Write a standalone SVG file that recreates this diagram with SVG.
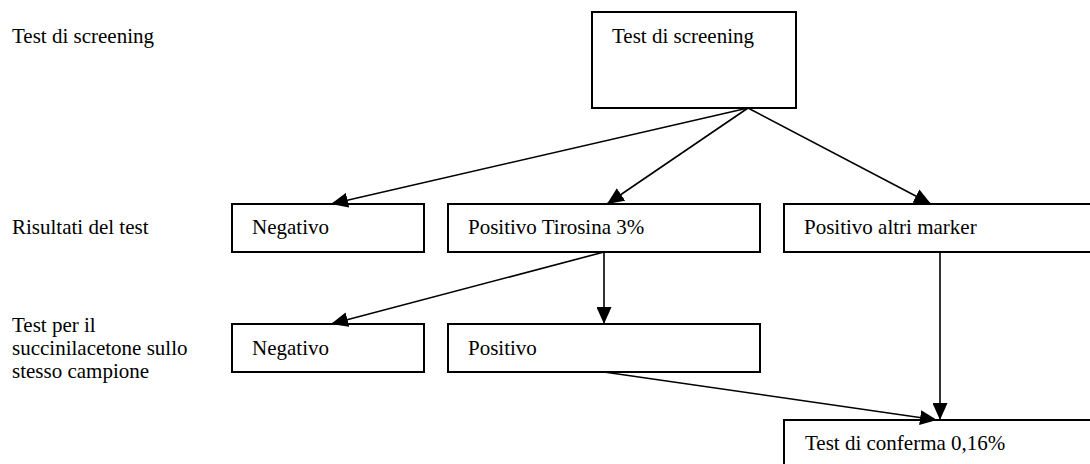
<svg xmlns="http://www.w3.org/2000/svg" width="1090" height="464" viewBox="0 0 1090 464">
<style>
text{font-family:'Liberation Serif','Times New Roman',Tinos,'DejaVu Serif',serif;font-size:21px;fill:#000}
.box{fill:#fff;stroke:#000;stroke-width:2}
.conn line{stroke:#000;stroke-width:1.6;marker-end:url(#ah)}
</style>
<defs>
<marker id="ah" markerUnits="userSpaceOnUse" markerWidth="17" markerHeight="15" refX="17" refY="7.5" orient="auto">
<path d="M0,0 L17,7.5 L0,15 z" fill="#000"/>
</marker>
</defs>
<rect width="1090" height="464" fill="#fff"/>
<g id="labels" font-family="Liberation Serif, serif">
<text x="12" y="43">Test di screening</text>
<text x="12" y="234">Risultati del test</text>
<text x="12" y="332">Test per il</text>
<text x="12" y="355">succinilacetone sullo</text>
<text x="12" y="378">stesso campione</text>
</g>
<g id="n-screening"><rect class="box" x="592" y="12" width="204" height="96"/><text x="612" y="43">Test di screening</text></g>
<g id="n-neg1"><rect class="box" x="232" y="204" width="192" height="48"/><text x="252" y="234">Negativo</text></g>
<g id="n-tirosina"><rect class="box" x="448" y="204" width="312" height="48"/><text x="468" y="234">Positivo Tirosina 3%</text></g>
<g id="n-altri"><rect class="box" x="784" y="204" width="312" height="48"/><text x="804" y="234">Positivo altri marker</text></g>
<g id="n-neg2"><rect class="box" x="232" y="324" width="192" height="48"/><text x="252" y="355">Negativo</text></g>
<g id="n-pos2"><rect class="box" x="448" y="324" width="312" height="48"/><text x="468" y="355">Positivo</text></g>
<g id="n-conferma"><rect class="box" x="784" y="420" width="312" height="52"/><text x="805" y="450">Test di conferma 0,16%</text></g>
<g id="connectors" class="conn">
<line x1="748" y1="108" x2="331" y2="204"/>
<line x1="748" y1="108" x2="607" y2="204"/>
<line x1="748" y1="108" x2="931" y2="204"/>
<line x1="604" y1="252" x2="604" y2="324"/>
<line x1="604" y1="252" x2="331" y2="324"/>
<line x1="940" y1="252" x2="940" y2="420"/>
<line x1="604" y1="372" x2="937" y2="420"/>
</g>
</svg>
